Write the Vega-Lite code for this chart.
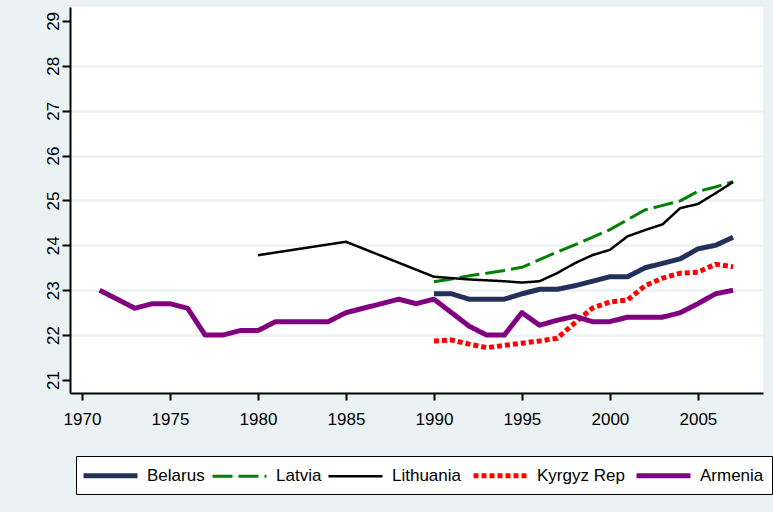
{
  "$schema": "https://vega.github.io/schema/vega-lite/v6.json",
  "width": 693,
  "height": 386,
  "autosize": {"type": "none"},
  "padding": {"left": 70, "top": 7, "right": 10, "bottom": 119},
  "background": "#EAF2F3",
  "config": {
    "view": {"fill": "white", "stroke": null},
    "font": "Liberation Sans"
  },
  "data": {
    "values": [
      {"country": "Belarus", "year": 1990, "v": 22.92},
      {"country": "Belarus", "year": 1991, "v": 22.92},
      {"country": "Belarus", "year": 1992, "v": 22.8},
      {"country": "Belarus", "year": 1993, "v": 22.8},
      {"country": "Belarus", "year": 1994, "v": 22.8},
      {"country": "Belarus", "year": 1995, "v": 22.92},
      {"country": "Belarus", "year": 1996, "v": 23.02},
      {"country": "Belarus", "year": 1997, "v": 23.02},
      {"country": "Belarus", "year": 1998, "v": 23.1},
      {"country": "Belarus", "year": 1999, "v": 23.2},
      {"country": "Belarus", "year": 2000, "v": 23.3},
      {"country": "Belarus", "year": 2001, "v": 23.3},
      {"country": "Belarus", "year": 2002, "v": 23.5},
      {"country": "Belarus", "year": 2003, "v": 23.6},
      {"country": "Belarus", "year": 2004, "v": 23.7},
      {"country": "Belarus", "year": 2005, "v": 23.92},
      {"country": "Belarus", "year": 2006, "v": 24.0},
      {"country": "Belarus", "year": 2007, "v": 24.18},
      {"country": "Latvia", "year": 1990, "v": 23.19},
      {"country": "Latvia", "year": 1991, "v": 23.25},
      {"country": "Latvia", "year": 1992, "v": 23.32},
      {"country": "Latvia", "year": 1993, "v": 23.38},
      {"country": "Latvia", "year": 1994, "v": 23.44},
      {"country": "Latvia", "year": 1995, "v": 23.51},
      {"country": "Latvia", "year": 1996, "v": 23.68},
      {"country": "Latvia", "year": 1997, "v": 23.85},
      {"country": "Latvia", "year": 1998, "v": 24.01},
      {"country": "Latvia", "year": 1999, "v": 24.18},
      {"country": "Latvia", "year": 2000, "v": 24.35},
      {"country": "Latvia", "year": 2001, "v": 24.57},
      {"country": "Latvia", "year": 2002, "v": 24.79},
      {"country": "Latvia", "year": 2003, "v": 24.89},
      {"country": "Latvia", "year": 2004, "v": 24.99},
      {"country": "Latvia", "year": 2005, "v": 25.2},
      {"country": "Latvia", "year": 2006, "v": 25.3},
      {"country": "Latvia", "year": 2007, "v": 25.42},
      {"country": "Lithuania", "year": 1980, "v": 23.78},
      {"country": "Lithuania", "year": 1985, "v": 24.08},
      {"country": "Lithuania", "year": 1990, "v": 23.3},
      {"country": "Lithuania", "year": 1991, "v": 23.27},
      {"country": "Lithuania", "year": 1992, "v": 23.24},
      {"country": "Lithuania", "year": 1993, "v": 23.22},
      {"country": "Lithuania", "year": 1994, "v": 23.2},
      {"country": "Lithuania", "year": 1995, "v": 23.17},
      {"country": "Lithuania", "year": 1996, "v": 23.2},
      {"country": "Lithuania", "year": 1997, "v": 23.38},
      {"country": "Lithuania", "year": 1998, "v": 23.6},
      {"country": "Lithuania", "year": 1999, "v": 23.78},
      {"country": "Lithuania", "year": 2000, "v": 23.9},
      {"country": "Lithuania", "year": 2001, "v": 24.2},
      {"country": "Lithuania", "year": 2002, "v": 24.34},
      {"country": "Lithuania", "year": 2003, "v": 24.47},
      {"country": "Lithuania", "year": 2004, "v": 24.83},
      {"country": "Lithuania", "year": 2005, "v": 24.92},
      {"country": "Lithuania", "year": 2006, "v": 25.16},
      {"country": "Lithuania", "year": 2007, "v": 25.41},
      {"country": "Kyrgyz Rep", "year": 1990, "v": 21.87},
      {"country": "Kyrgyz Rep", "year": 1991, "v": 21.89},
      {"country": "Kyrgyz Rep", "year": 1992, "v": 21.8},
      {"country": "Kyrgyz Rep", "year": 1993, "v": 21.72},
      {"country": "Kyrgyz Rep", "year": 1994, "v": 21.77},
      {"country": "Kyrgyz Rep", "year": 1995, "v": 21.82},
      {"country": "Kyrgyz Rep", "year": 1996, "v": 21.87},
      {"country": "Kyrgyz Rep", "year": 1997, "v": 21.93},
      {"country": "Kyrgyz Rep", "year": 1998, "v": 22.27},
      {"country": "Kyrgyz Rep", "year": 1999, "v": 22.6},
      {"country": "Kyrgyz Rep", "year": 2000, "v": 22.74},
      {"country": "Kyrgyz Rep", "year": 2001, "v": 22.78},
      {"country": "Kyrgyz Rep", "year": 2002, "v": 23.1},
      {"country": "Kyrgyz Rep", "year": 2003, "v": 23.27},
      {"country": "Kyrgyz Rep", "year": 2004, "v": 23.38},
      {"country": "Kyrgyz Rep", "year": 2005, "v": 23.4},
      {"country": "Kyrgyz Rep", "year": 2006, "v": 23.58},
      {"country": "Kyrgyz Rep", "year": 2007, "v": 23.52},
      {"country": "Armenia", "year": 1971, "v": 23.0},
      {"country": "Armenia", "year": 1973, "v": 22.6},
      {"country": "Armenia", "year": 1974, "v": 22.7},
      {"country": "Armenia", "year": 1975, "v": 22.7},
      {"country": "Armenia", "year": 1976, "v": 22.6},
      {"country": "Armenia", "year": 1977, "v": 22.0},
      {"country": "Armenia", "year": 1978, "v": 22.0},
      {"country": "Armenia", "year": 1979, "v": 22.1},
      {"country": "Armenia", "year": 1980, "v": 22.1},
      {"country": "Armenia", "year": 1981, "v": 22.3},
      {"country": "Armenia", "year": 1982, "v": 22.3},
      {"country": "Armenia", "year": 1983, "v": 22.3},
      {"country": "Armenia", "year": 1984, "v": 22.3},
      {"country": "Armenia", "year": 1985, "v": 22.5},
      {"country": "Armenia", "year": 1986, "v": 22.6},
      {"country": "Armenia", "year": 1987, "v": 22.7},
      {"country": "Armenia", "year": 1988, "v": 22.8},
      {"country": "Armenia", "year": 1989, "v": 22.7},
      {"country": "Armenia", "year": 1990, "v": 22.8},
      {"country": "Armenia", "year": 1991, "v": 22.5},
      {"country": "Armenia", "year": 1992, "v": 22.2},
      {"country": "Armenia", "year": 1993, "v": 22.0},
      {"country": "Armenia", "year": 1994, "v": 22.0},
      {"country": "Armenia", "year": 1995, "v": 22.5},
      {"country": "Armenia", "year": 1996, "v": 22.22},
      {"country": "Armenia", "year": 1997, "v": 22.33},
      {"country": "Armenia", "year": 1998, "v": 22.42},
      {"country": "Armenia", "year": 1999, "v": 22.3},
      {"country": "Armenia", "year": 2000, "v": 22.3},
      {"country": "Armenia", "year": 2001, "v": 22.4},
      {"country": "Armenia", "year": 2002, "v": 22.4},
      {"country": "Armenia", "year": 2003, "v": 22.4},
      {"country": "Armenia", "year": 2004, "v": 22.5},
      {"country": "Armenia", "year": 2005, "v": 22.7},
      {"country": "Armenia", "year": 2006, "v": 22.92},
      {"country": "Armenia", "year": 2007, "v": 23.0}
    ]
  },
  "mark": {"type": "line", "strokeJoin": "round", "strokeCap": "butt"},
  "encoding": {
    "x": {
      "field": "year",
      "type": "quantitative",
      "scale": {"domain": [1969.32, 2008.7], "nice": false, "zero": false},
      "axis": {
        "title": null,
        "values": [1970, 1975, 1980, 1985, 1990, 1995, 2000, 2005],
        "format": "d",
        "grid": false,
        "domainColor": "black",
        "domainWidth": 2,
        "tickColor": "black",
        "tickWidth": 2,
        "tickSize": 7,
        "labelFontSize": 17,
        "labelColor": "black",
        "labelBaseline": "alphabetic",
        "labelPadding": 24,
        "labelDx": -6,
        "labelFlush": false
      }
    },
    "y": {
      "field": "v",
      "type": "quantitative",
      "scale": {"domain": [20.71, 29.31], "nice": false, "zero": false},
      "axis": {
        "title": null,
        "values": [21, 22, 23, 24, 25, 26, 27, 28, 29],
        "domainColor": "black",
        "domainWidth": 2,
        "tickColor": "black",
        "tickWidth": 2,
        "tickSize": 8,
        "labelFontSize": 17,
        "labelColor": "black",
        "labelAngle": 270,
        "labelAlign": "center",
        "labelBaseline": "alphabetic",
        "labelPadding": 4,
        "labelFlush": false,
        "grid": true,
        "gridColor": "#EAF2F3",
        "gridWidth": 2.5,
        "gridOpacity": {"condition": {"test": "datum.value == 21 || datum.value == 29", "value": 0}, "value": 1}
      }
    },
    "color": {
      "field": "country",
      "type": "nominal",
      "scale": {
        "domain": ["Belarus", "Latvia", "Lithuania", "Kyrgyz Rep", "Armenia"],
        "range": ["#22305A", "#008000", "#000000", "#FF0000", "#800080"]
      },
      "legend": {
        "title": null,
        "orient": "none",
        "legendX": 6,
        "legendY": 449,
        "direction": "horizontal",
        "columns": 5,
        "columnPadding": 1,
        "padding": 8,
        "strokeColor": "black",
        "fillColor": "white",
        "cornerRadius": 0,
        "symbolType": "M-3,0H3",
        "symbolSize": 324,
        "symbolOffset": 15,
        "labelOffset": 25,
        "labelFontSize": 17,
        "labelColor": "black",
        "labelLimit": 0
      }
    },
    "strokeDash": {
      "field": "country",
      "type": "nominal",
      "scale": {
        "domain": ["Belarus", "Latvia", "Lithuania", "Kyrgyz Rep", "Armenia"],
        "range": [[1, 0], [20, 6], [1, 0], [5, 3], [1, 0]]
      },
      "legend": null
    },
    "strokeWidth": {
      "field": "country",
      "type": "nominal",
      "scale": {
        "type": "ordinal",
        "domain": ["Belarus", "Latvia", "Lithuania", "Kyrgyz Rep", "Armenia"],
        "range": [5, 3, 2.5, 5, 5]
      },
      "legend": null
    }
  }
}
